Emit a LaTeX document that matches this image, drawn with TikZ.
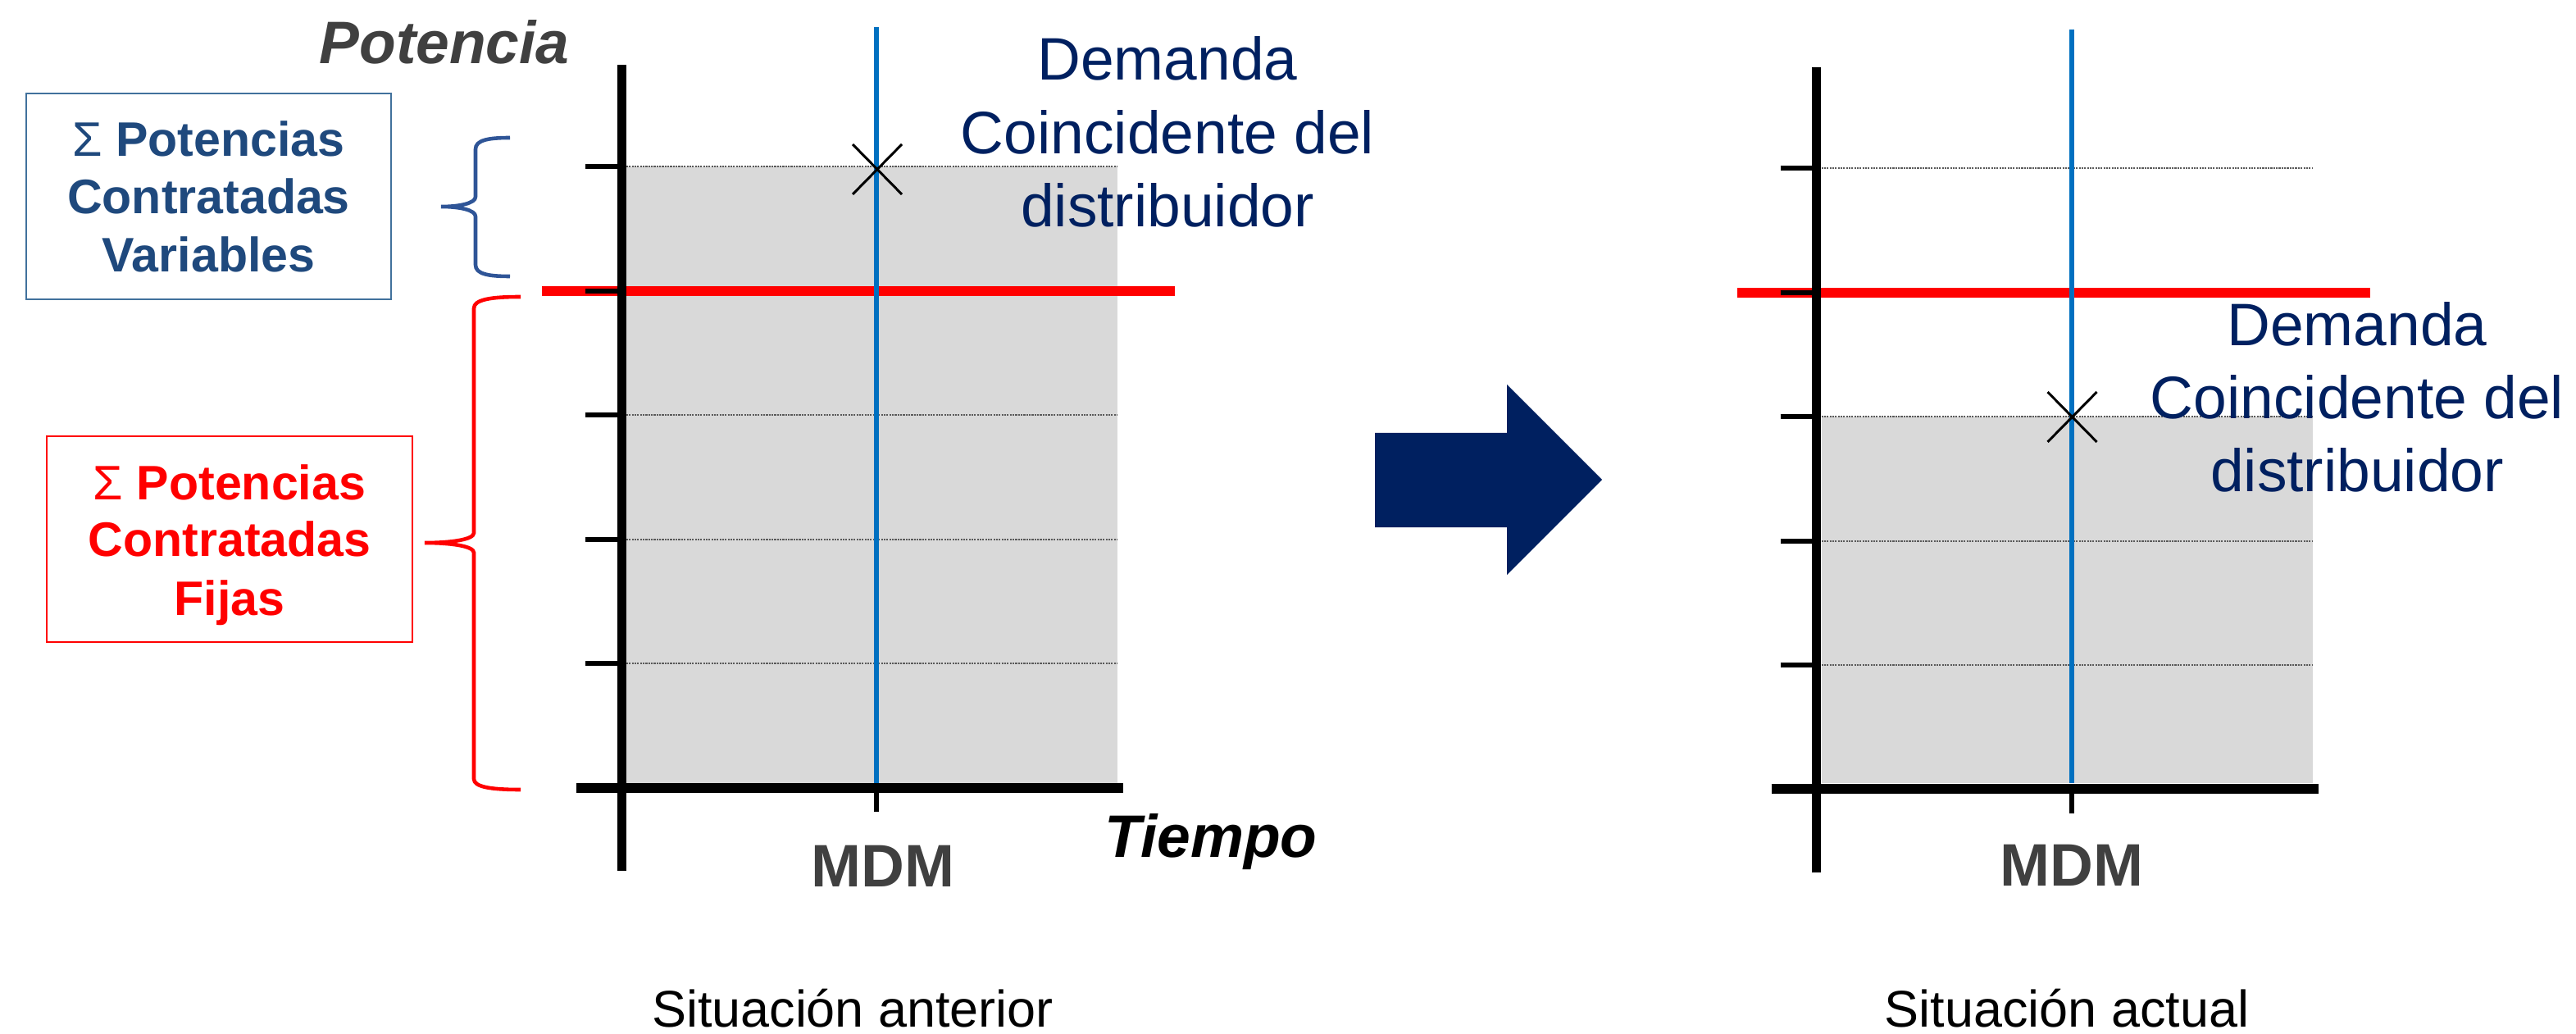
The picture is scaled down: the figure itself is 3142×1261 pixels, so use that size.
\documentclass[tikz,border=0pt]{standalone}
\usepackage{fontspec}
\setmainfont{Liberation Sans}
\definecolor{fillgray}{RGB}{217,217,217}
\definecolor{mdmblue}{RGB}{0,112,192}
\definecolor{navy}{RGB}{0,32,96}
\definecolor{boxblue}{RGB}{31,73,125}
\definecolor{boxline}{RGB}{65,113,156}
\definecolor{bracecol}{RGB}{47,85,151}
\definecolor{darkgray}{RGB}{64,64,64}
\definecolor{gridgray}{RGB}{90,90,90}
\begin{document}
\begin{tikzpicture}[x=0.01cm,y=-0.01cm,
  axisline/.style={line width=3.13pt,black},
  baseaxis/.style={line width=3.6pt,black},
  tickline/.style={line width=1.7pt,black},
  redline/.style={line width=3.13pt,red},
  mdmline/.style={line width=1.7pt,mdmblue},
  gridline/.style={line width=0.45pt,gridgray,dash pattern=on 0.6pt off 0.35pt},
  xmark/.style={line width=0.85pt,black},
  txt/.style={inner sep=0pt,anchor=base},
  bigtxt/.style={txt,font=\fontsize{20.8}{25}\selectfont},
  boxtxt/.style={txt,font=\fontsize{16.8}{20}\selectfont\bfseries},
  captxt/.style={txt,font=\fontsize{17.9}{21}\selectfont},
  bracestyle/.style={line width=1.3pt}]
\useasboundingbox (0,0) rectangle (3142,1261);

% ---------- left chart ----------
\fill[fillgray] (764,203) rectangle (1363,955);
\foreach \yy in {203,506,658,809} \draw[gridline] (764,\yy) -- (1363,\yy);
\draw[redline] (661,355) -- (1433,355);
\draw[mdmline] (1069,33) -- (1069,955);
\draw[axisline] (758,79) -- (758,1062);
\foreach \yy in {203,355,506,658,809} \draw[tickline] (714,\yy) -- (758,\yy);
\draw[baseaxis] (703,961) -- (1370,961);
\draw[tickline] (1069,961) -- (1069,990);
\draw[xmark] (1040,176) -- (1100,237) (1040,237) -- (1100,176);

% ---------- right chart ----------
\begin{scope}[shift={(1457.5,2)}]
\fill[fillgray] (764,506) rectangle (1363,953);
\foreach \yy in {203,506,658,809} \draw[gridline] (764,\yy) -- (1363,\yy);
\draw[redline] (661,355) -- (1433,355);
\draw[mdmline] (1069,34) -- (1069,953);
\draw[axisline] (758,80) -- (758,1062);
\foreach \yy in {203,355,506,658,809} \draw[tickline] (714,\yy) -- (758,\yy);
\draw[baseaxis] (703,960) -- (1370,960);
\draw[tickline] (1069,960) -- (1069,990);
\draw[xmark] (1040,476) -- (1100,537) (1040,537) -- (1100,476);
\end{scope}

% ---------- arrow ----------
\fill[navy] (1677,528) -- (1838,528) -- (1838,469) -- (1954,585) -- (1838,701) -- (1838,643) -- (1677,643) -- cycle;

% ---------- boxes ----------
\node[draw=boxline,line width=0.7pt,minimum width=4.45cm,minimum height=2.51cm,inner sep=0pt] (varbox) at (254.5,239.5) {};
\node[boxtxt,text=boxblue] (var1) at (254.5,191) {{\mdseries Σ} Potencias};
\node[boxtxt,text=boxblue] (var2) at (254.5,261) {Contratadas};
\node[boxtxt,text=boxblue] (var3) at (254.5,332) {Variables};

\node[draw=red,line width=0.7pt,minimum width=4.46cm,minimum height=2.51cm,inner sep=0pt] (fijbox) at (280,657.5) {};
\node[boxtxt,text=red] (fij1) at (280,609) {{\mdseries Σ} Potencias};
\node[boxtxt,text=red] (fij2) at (280,679) {Contratadas};
\node[boxtxt,text=red] (fij3) at (280,750) {Fijas};

% ---------- braces ----------
\draw[bracestyle,bracecol] (622,168) .. controls (595,168) and (580,171) .. (580,182) -- (580,240) .. controls (580,248) and (560,252) .. (538,252) .. controls (560,252) and (580,256) .. (580,264) -- (580,323) .. controls (580,334) and (595,337) .. (622,337);
\draw[bracestyle,red] (635,362) .. controls (600,362) and (578,365) .. (578,376) -- (578,650) .. controls (578,658) and (550,662) .. (518,662) .. controls (550,662) and (578,666) .. (578,674) -- (578,950) .. controls (578,960) and (600,963) .. (635,963);

% ---------- labels ----------
\node[bigtxt,text=darkgray,font=\fontsize{20.8}{25}\selectfont\bfseries\itshape] (pot) at (542,78) {Potencia};
\node[bigtxt,text=black,font=\fontsize{20.8}{25}\selectfont\bfseries\itshape] (tiempo) at (1477,1045) {Tiempo};
\node[bigtxt,text=darkgray,font=\fontsize{20.8}{25}\selectfont\bfseries] (mdm1) at (1077,1081) {MDM};
\node[bigtxt,text=darkgray,font=\fontsize{20.8}{25}\selectfont\bfseries] (mdm2) at (2527,1080) {MDM};

\node[bigtxt,text=navy] (dem1a) at (1424,98) {Demanda};
\node[bigtxt,text=navy] (dem1b) at (1424,188) {Coincidente del};
\node[bigtxt,text=navy] (dem1c) at (1424,277) {distribuidor};
\node[bigtxt,text=navy] (dem2a) at (2875,422) {Demanda};
\node[bigtxt,text=navy] (dem2b) at (2875,511) {Coincidente del};
\node[bigtxt,text=navy] (dem2c) at (2875,600) {distribuidor};

\node[captxt] (cap1) at (1040,1252) {Situación anterior};
\node[captxt] (cap2) at (2521,1252) {Situación actual};
\end{tikzpicture}
\end{document}
